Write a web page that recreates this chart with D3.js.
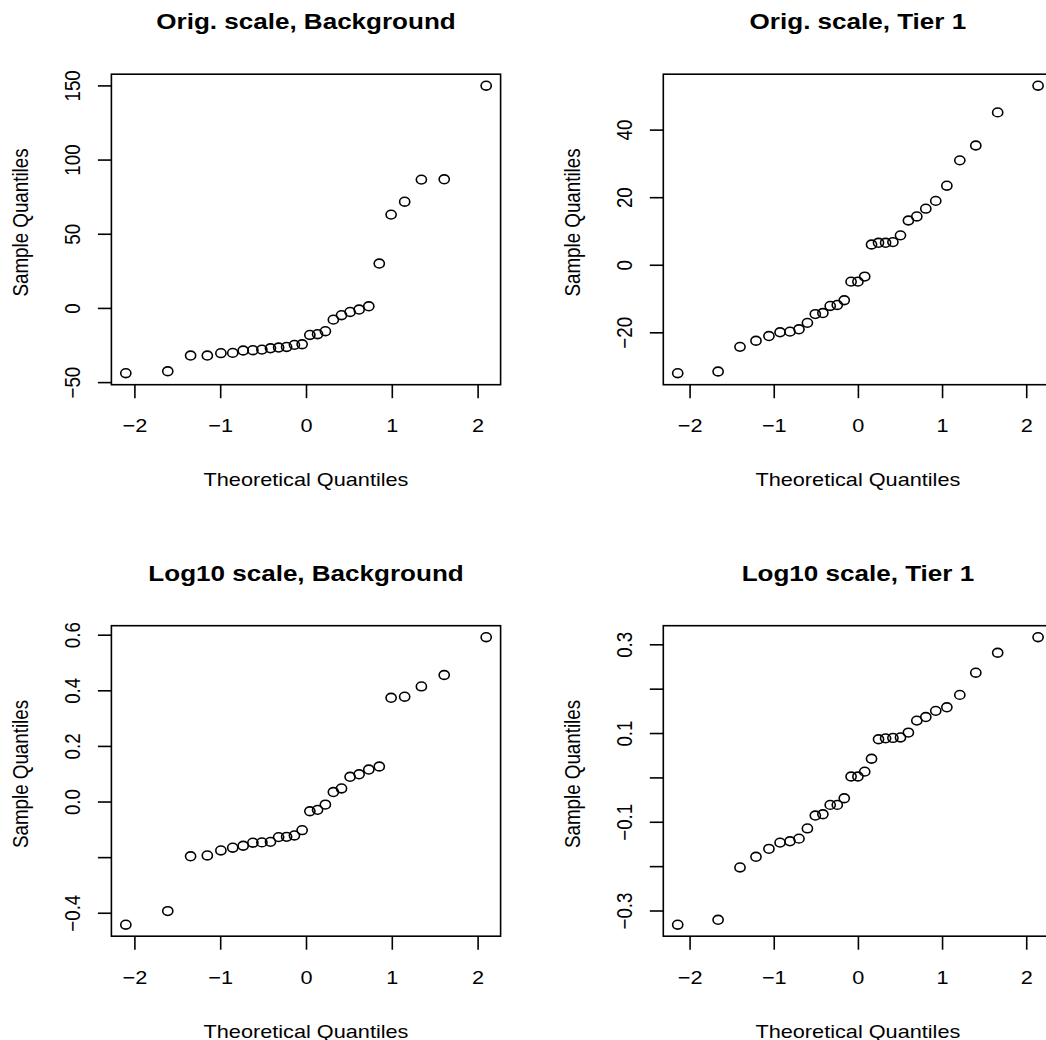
<!DOCTYPE html>
<html>
<head>
<meta charset="utf-8">
<script src="https://cdn.jsdelivr.net/npm/d3@7"></script>
<style>
body { margin: 0; background: #fff; }
text { font-family: "Liberation Sans", Arial, Helvetica, sans-serif; fill: #000; }
</style>
</head>
<body>
<script>
// theoretical normal quantiles, n = 28 (Background) and n = 31 (Tier 1)
var qBackground = [-2.100, -1.611, -1.345, -1.150, -0.992, -0.854, -0.732, -0.619, -0.514, -0.414,
  -0.319, -0.226, -0.135, -0.045, 0.045, 0.135, 0.226, 0.319, 0.414, 0.514,
  0.619, 0.732, 0.854, 0.992, 1.150, 1.345, 1.611, 2.100];
var qTier1 = [-2.141, -1.661, -1.401, -1.211, -1.057, -0.925, -0.807, -0.700, -0.600, -0.506,
  -0.416, -0.329, -0.245, -0.162, -0.081, 0, 0.081, 0.162, 0.245, 0.329,
  0.416, 0.506, 0.600, 0.700, 0.807, 0.925, 1.057, 1.211, 1.401, 1.661, 2.141];

// sample quantiles
var origBackground = [-44.0, -42.7, -32.1, -32.1, -30.5, -30.3, -28.7, -28.5, -28.1, -27.2,
  -26.7, -26.3, -24.9, -24.5, -18.2, -17.7, -15.7, -7.9, -4.9, -2.7,
  -1.1, 1.1, 29.9, 62.9, 71.6, 86.5, 86.7, 149.8];
var origTier1 = [-32.1, -31.6, -24.3, -22.5, -21.1, -20.0, -19.8, -19.1, -17.2, -14.6,
  -14.3, -12.2, -11.9, -10.5, -5.0, -5.0, -3.5, 6.0, 6.5, 6.5,
  6.7, 8.7, 13.1, 14.3, 16.6, 18.9, 23.4, 30.9, 35.3, 45.1, 53.0];
var logBackground = [-0.443, -0.394, -0.197, -0.194, -0.176, -0.166, -0.159, -0.148, -0.147, -0.145,
  -0.128, -0.127, -0.122, -0.103, -0.035, -0.030, -0.011, 0.034, 0.047, 0.089,
  0.098, 0.115, 0.126, 0.373, 0.377, 0.414, 0.455, 0.591];
var logTier1 = [-0.332, -0.321, -0.203, -0.179, -0.161, -0.147, -0.144, -0.138, -0.115, -0.086,
  -0.083, -0.062, -0.062, -0.047, 0.002, 0.002, 0.013, 0.042, 0.086, 0.088,
  0.089, 0.090, 0.101, 0.128, 0.136, 0.150, 0.158, 0.186, 0.236, 0.281, 0.316];

// ticks and their labels ("" = tick without label, as R drops overlapping ones)
var xTicks = [-2, -1, 0, 1, 2];
var xTickLabels = ["\u22122", "\u22121", "0", "1", "2"];
var yTicksOrigBg = [-50, 0, 50, 100, 150];
var yLabelsOrigBg = ["\u221250", "0", "50", "100", "150"];
var yTicksOrigT1 = [-20, 0, 20, 40];
var yLabelsOrigT1 = ["\u221220", "0", "20", "40"];
var yTicksLogBg = [-0.4, -0.2, 0, 0.2, 0.4, 0.6];
var yLabelsLogBg = ["\u22120.4", "", "0.0", "0.2", "0.4", "0.6"];
var yTicksLogT1 = [-0.3, -0.2, -0.1, 0, 0.1, 0.2, 0.3];
var yLabelsLogT1 = ["\u22120.3", "", "\u22120.1", "", "0.1", "", "0.3"];

var panels = [
  {title: "Orig. scale, Background", x: qBackground, y: origBackground, ticks: yTicksOrigBg, labels: yLabelsOrigBg, col: 0, row: 0},
  {title: "Orig. scale, Tier 1", x: qTier1, y: origTier1, ticks: yTicksOrigT1, labels: yLabelsOrigT1, col: 1, row: 0},
  {title: "Log10 scale, Background", x: qBackground, y: logBackground, ticks: yTicksLogBg, labels: yLabelsLogBg, col: 0, row: 1},
  {title: "Log10 scale, Tier 1", x: qTier1, y: logTier1, ticks: yTicksLogT1, labels: yLabelsLogT1, col: 1, row: 1}
];

var width = 1046, height = 1040;
var plotW = 389.2, plotH = 310.5;
var colLeft = [111.4, 663.3], rowTop = [74.2, 625.7];
var sx = 1.157;          // the source glyphs are a bit wider than tall
var lab = 18.75, main = 22.5, lw = 1.6, tick = 13.5;

var svg = d3.select("body").append("svg")
    .attr("width", width)
    .attr("height", height);

// R pads the data range by 4% on each side
function pad(ext) {
  var d = (ext[1] - ext[0]) * 0.04;
  return [ext[0] - d, ext[1] + d];
}

panels.forEach(function(p) {
  var left = colLeft[p.col], top = rowTop[p.row];
  var x = d3.scaleLinear().domain(pad(d3.extent(p.x))).range([0, plotW]);
  var y = d3.scaleLinear().domain(pad(d3.extent(p.y))).range([plotH, 0]);

  var g = svg.append("g")
      .attr("transform", "translate(" + left + "," + top + ")");

  // x axis
  var xg = g.append("g")
      .attr("transform", "translate(0," + plotH + ")")
      .call(d3.axisBottom(x).tickValues(xTicks)
        .tickFormat(function(d, i) { return xTickLabels[i]; })
        .tickSize(tick).tickSizeOuter(0));
  xg.select(".domain").remove();
  xg.selectAll("line").attr("stroke", "#000").attr("stroke-width", lw);
  xg.selectAll("text")
      .attr("y", 0).attr("dy", null)
      .style("font-size", lab + "px")
      .attr("transform", "translate(0,47.7) scale(" + sx + ",1)");

  // y axis, labels turned like R's las = 0
  var yg = g.append("g")
      .call(d3.axisLeft(y).tickValues(p.ticks)
        .tickFormat(function(d, i) { return p.labels[i]; })
        .tickSize(tick).tickSizeOuter(0));
  yg.select(".domain").remove();
  yg.selectAll("line").attr("stroke", "#000").attr("stroke-width", lw);
  yg.selectAll("text")
      .attr("x", 0).attr("dy", null)
      .attr("text-anchor", "middle")
      .style("font-size", lab + "px")
      .attr("transform", "translate(-31,0) scale(" + sx + ",1) rotate(-90)");

  // box
  g.append("rect")
      .attr("width", plotW)
      .attr("height", plotH)
      .attr("fill", "none")
      .attr("stroke", "#000")
      .attr("stroke-width", lw);

  // points
  g.selectAll(".dot")
      .data(p.y)
    .enter().append("ellipse")
      .attr("class", "dot")
      .attr("cx", function(d, i) { return x(p.x[i]); })
      .attr("cy", function(d) { return y(d); })
      .attr("rx", 4.4 * sx)
      .attr("ry", 4.4)
      .attr("fill", "none")
      .attr("stroke", "#000")
      .attr("stroke-width", lw);

  // titles
  g.append("text")
      .attr("text-anchor", "middle")
      .attr("font-weight", "bold")
      .style("font-size", main + "px")
      .attr("transform", "translate(" + (plotW / 2) + ",-44.7) scale(" + sx + ",1)")
      .text(p.title);

  g.append("text")
      .attr("text-anchor", "middle")
      .style("font-size", lab + "px")
      .attr("transform", "translate(" + (plotW / 2) + "," + (plotH + 101.4) + ") scale(" + sx + ",1)")
      .text("Theoretical Quantiles");

  // sits a little above the plot centre in the source
  g.append("text")
      .attr("text-anchor", "middle")
      .style("font-size", lab + "px")
      .attr("transform", "translate(-83.5," + (plotH / 2 - 7) + ") scale(" + sx + ",1) rotate(-90)")
      .text("Sample Quantiles");
});
</script>
</body>
</html>
